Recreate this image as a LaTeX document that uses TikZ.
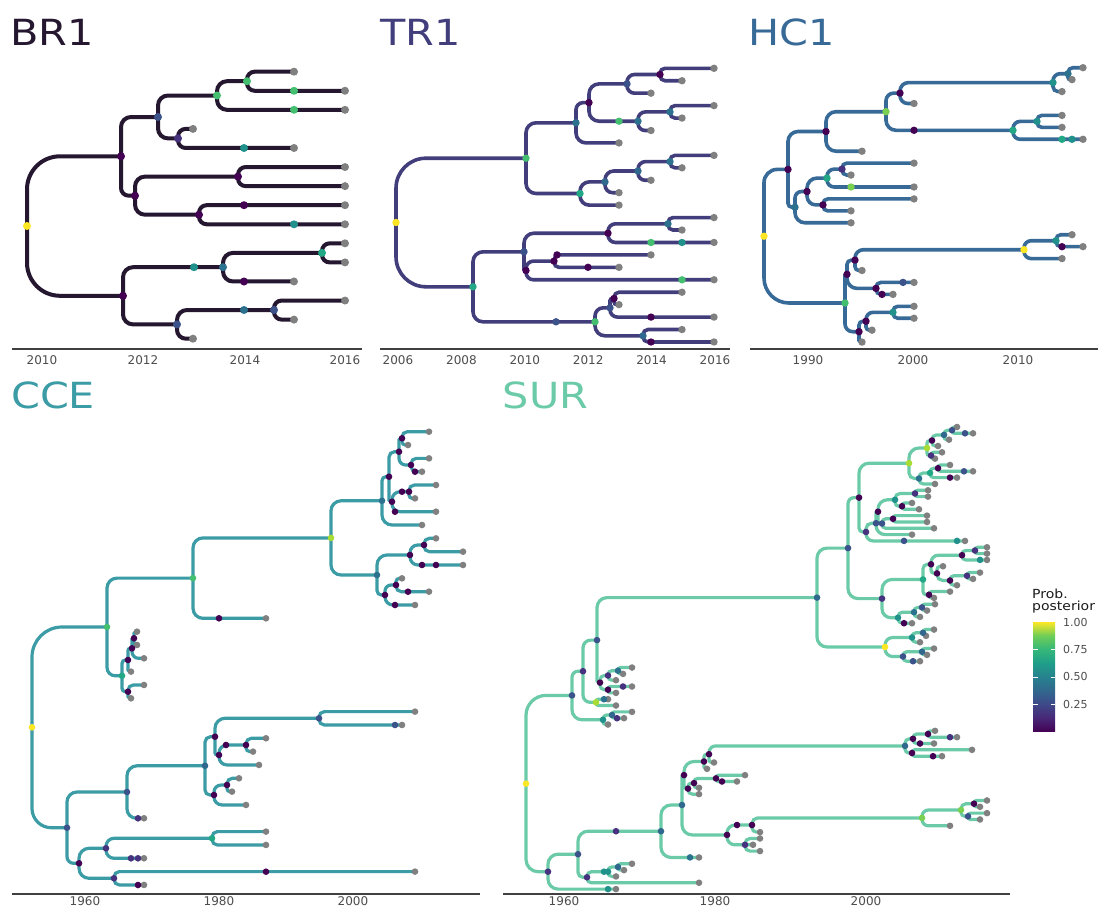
\documentclass[tikz,border=0pt]{standalone}
\usepackage{fontspec}
\setmainfont{DejaVu Sans}
\usetikzlibrary{calc}
\definecolor{vdk}{HTML}{440154}
\definecolor{vpu}{HTML}{46327E}
\definecolor{vbl}{HTML}{3B528B}
\definecolor{vbt}{HTML}{31688E}
\definecolor{vtb}{HTML}{2C728E}
\definecolor{vte}{HTML}{21918C}
\definecolor{vtg}{HTML}{22A884}
\definecolor{vgr}{HTML}{44BF70}
\definecolor{vlg}{HTML}{7AD151}
\definecolor{vyg}{HTML}{A8DB34}
\definecolor{vye}{HTML}{FDE725}
\definecolor{vtip}{HTML}{808080}
\definecolor{cbr}{HTML}{24172F}
\definecolor{ctr}{HTML}{423D7B}
\definecolor{chc}{HTML}{386A98}
\definecolor{cce}{HTML}{3B9CA5}
\definecolor{csu}{HTML}{6BCBA8}
\definecolor{axline}{HTML}{404040}
\definecolor{axlab}{HTML}{4D4D4D}
\definecolor{lgtxt}{HTML}{1A1A1A}
\definecolor{vv0}{HTML}{440154}
\definecolor{vv1}{HTML}{482878}
\definecolor{vv2}{HTML}{3E4989}
\definecolor{vv3}{HTML}{31688E}
\definecolor{vv4}{HTML}{26828E}
\definecolor{vv5}{HTML}{1F9E89}
\definecolor{vv6}{HTML}{35B779}
\definecolor{vv7}{HTML}{6ECE58}
\definecolor{vv8}{HTML}{FDE725}
\pgfdeclareverticalshading{viridis}{100bp}{color(0bp)=(vv0); color(25bp)=(vv0); color(31.25bp)=(vv1); color(37.5bp)=(vv2); color(43.75bp)=(vv3); color(50bp)=(vv4); color(56.25bp)=(vv5); color(62.5bp)=(vv6); color(68.75bp)=(vv7); color(75bp)=(vv8); color(100bp)=(vv8)}
\newcommand\br[3][10]{\draw let \p1=(#2),\p2=(#3),\n1={min(#1,0.55*abs(\x2-\x1),0.8*abs(\y2-\y1))} in [rounded corners=\n1] (#2) |- (#3);}
\newcommand\cns[1]{\foreach \nm/\xx/\yy in {#1}{\coordinate (\nm) at (\xx,\yy);}}
\newcommand\tipsat[4]{\foreach \xx [count=\ii from 0] in {#4}{\coordinate (#1\ii) at (\xx,{#2+#3*\ii});}}
\newcommand\edges[1]{\foreach \pa/\ch in {#1}{\br{\pa}{\ch}}}
\newcommand\edgesR[2]{\foreach \pa/\ch in {#2}{\br[#1]{\pa}{\ch}}}
\newcommand\ndots[1]{\foreach \nm/\col in {#1}{\fill[\col] (\nm) circle[radius=\dr pt];}}
\newcommand\bdots[1]{\foreach \xx/\yy/\col in {#1}{\fill[\col] (\xx,\yy) circle[radius=\dr pt];}}
\newcommand\tipdots[2]{\foreach \ii in {0,...,#2}{\fill[vtip] (#1\ii) circle[radius=\dr pt];}}
\begin{document}
\begin{tikzpicture}[x=1pt,y=-1pt,
 ttl/.style={anchor=base west,inner sep=0pt,font=\fontsize{36}{40}\selectfont},
 tck/.style={inner sep=0pt,text=axlab,font=\fontsize{12}{13}\selectfont},
 axl/.style={draw=axline,line width=1.1pt},
 lgd/.style={inner sep=0pt,anchor=west,text=axlab,font=\fontsize{11}{13}\selectfont}]
\useasboundingbox (0,0) rectangle (1102,907);
\fill[white] (0,0) rectangle (1102,907);

%% ================= BR1
\node[ttl,text=cbr] (brT) at (10,46) {\scalebox{1.15}[1]{BR1}};
\cns{b0/27/226, bA/121/156.3, bB/123/295.8, bC/158/117, bD/135/195.7, bE/217/95.5, bF/178/138.4, bG/247/81.2, bH/238/176.6, bI/199/214.7, bJ/223/267.2, bK/177/324.4, bL/322/252.9, bM/274/310}
\tipsat{bt}{71.7}{19.07}{294,345,345,193,294,345,345,345,345,345,345,294,345,294,193}
\begin{scope}[color=cbr,line width=4pt,line cap=round]
\edgesR{33}{b0/bA,b0/bB}
\edges{bA/bC,bA/bD,bC/bE,bC/bF,bE/bG,bE/bt2,bG/bt0,bG/bt1,bF/bt3,bF/bt4,bD/bH,bD/bI,bH/bt5,bH/bt6,bI/bt7,bI/bt8,bB/bJ,bB/bK,bJ/bL,bJ/bt11,bL/bt9,bL/bt10,bK/bM,bK/bt14,bM/bt12,bM/bt13}
\end{scope}
\def\dr{4}
\tipdots{bt}{14}
\ndots{b0/vye,bA/vdk,bB/vdk,bC/vbl,bD/vdk,bE/vgr,bF/vpu,bG/vgr,bH/vdk,bI/vdk,bJ/vtb,bK/vbl,bL/vtg,bM/vbl}
\bdots{294/90.8/vgr,294/109.8/vgr,244/148/vte,244/205.2/vdk,294/224.3/vte,194/267.2/vte,244/281.5/vdk,244/310/vtb}
\draw[axl] (12,349) -- (362,349);
\node[tck] (bx1) at (42,360) {2010};
\node[tck] (bx2) at (143,360) {2012};
\node[tck] (bx3) at (245,360) {2014};
\node[tck] (bx4) at (345,360) {2016};

%% ================= TR1
\node[ttl,text=ctr] (trT) at (380,46) {\scalebox{1.15}[1]{TR1}};
\cns{r0/396/222.5, rA/526/158.2, rB/473/286.8, rC/576/122.8, rD/580/193.5, rE/589/102.6, rF/627/83.9, rG/638/121.2, rH/660/74.5, rI/670/111.9, rJ/605/181.9, rK/638/171, rL/670/161.6, rM/524/251.8, rN/595/321.8, rO/608/233.2, rP/526/270.5, rQ/554/261.1, rR/668/223.8, rS/610/307.8, rT/643/335.8, rU/614/298.5}
\tipsat{rt}{68.3}{12.44}{714,682,651,714,682,651,619,714,682,651,619,619,714,682,714,651,619,714,682,619,714,682,714}
\begin{scope}[color=ctr,line width=3.6pt,line cap=round]
\edgesR{30}{r0/rA,r0/rB}
\edges{rA/rC,rA/rD,rC/rE,rC/rt6,rE/rF,rE/rG,rF/rH,rF/rt2,rH/rt0,rH/rt1,rG/rI,rG/rt5,rI/rt3,rI/rt4,rD/rJ,rD/rt11,rJ/rK,rJ/rt10,rK/rL,rK/rt9,rL/rt7,rL/rt8,rB/rM,rB/rN,rM/rO,rM/rP,rO/rR,rO/rt14,rR/rt12,rR/rt13,rP/rQ,rP/rt17,rQ/rt15,rQ/rt16,rN/rS,rN/rT,rS/rU,rS/rt20,rU/rt18,rU/rt19,rT/rt21,rT/rt22}
\end{scope}
\def\dr{3.7}
\tipdots{rt}{22}
\ndots{r0/vye,rA/vgr,rB/vtg,rC/vtb,rD/vtg,rE/vdk,rF/vbl,rG/vtb,rH/vdk,rI/vtb,rJ/vbt,rK/vbt,rL/vtb,rM/vbl,rN/vgr,rO/vdk,rP/vdk,rQ/vdk,rR/vtb,rS/vbl,rT/vbt,rU/vdk}
\bdots{619/121.2/vgr,651/242.5/vgr,682/242.5/vte,557/254.9/vdk,588/267.3/vdk,682/279.8/vgr,651/317.1/vdk,651/342/vdk,556/321.8/vbl}
\draw[axl] (380,349) -- (730,349);
\node[tck] (rx1) at (398,360) {2006};
\node[tck] (rx2) at (461.4,360) {2008};
\node[tck] (rx3) at (524.8,360) {2010};
\node[tck] (rx4) at (588.2,360) {2012};
\node[tck] (rx5) at (651.6,360) {2014};
\node[tck] (rx6) at (715,360) {2016};

%% ================= HC1
\node[ttl,text=chc] (hcT) at (748.5,46) {\scalebox{1.15}[1]{HC1}};
\cns{h0/764/236.2, hA/788/169.4, hB/845/303, hC/826/131.5, hD/795/207.2, hE/886/111.7, hF/900/93.1, hH/1053/82.6, hI/1068/73.7, hJ/1013/130.3, hK/1037/121.4, hL/807/191.5, hM/827/178.1, hN/823/204.9, hO/842/169.1, hP/847/274.3, hQ/859/331.7, hR/866/321.2, hS/893/312.3, hT/855/260.1, hU/876/288.4, hV/1024/249.7, hW/1056/240.7}
\tipsat{ht}{67.7}{11.93}{1083,1072,1062,914,1062,1062,1083,862,914,851,914,914,851,851,1072,1083,1062,862,914,893,914,914,872,862}
\begin{scope}[color=chc,line width=3.6pt,line cap=round]
\edgesR{25}{h0/hA,h0/hB}
\edges{hA/hC,hA/hD,hC/hE,hC/ht7,hE/hF,hE/hJ,hF/hH,hF/ht3,hH/hI,hH/ht2,hI/ht0,hI/ht1,hJ/hK,hJ/ht6,hK/ht4,hK/ht5,hD/hL,hD/ht13,hL/hM,hL/hN,hM/hO,hM/ht10,hO/ht8,hO/ht9,hN/ht11,hN/ht12,hB/hP,hB/hQ,hP/hT,hP/hU,hT/hV,hT/ht17,hV/hW,hV/ht16,hW/ht14,hW/ht15,hU/ht18,hU/ht19,hQ/hR,hQ/ht23,hR/hS,hR/ht22,hS/ht20,hS/ht21}
\end{scope}
\def\dr{3.7}
\tipdots{ht}{23}
\ndots{h0/vye,hA/vdk,hB/vgr,hC/vdk,hD/vtb,hE/vlg,hF/vdk,hH/vte,hI/vtb,hJ/vtg,hK/vte,hL/vdk,hM/vtg,hN/vdk,hO/vpu,hP/vdk,hQ/vdk,hR/vdk,hS/vte,hT/vdk,hU/vdk,hV/vye,hW/vte}
\bdots{914/130.3/vdk,1062/139.3/vtg,1072/139.3/vte,851/187/vlg,1062/246.7/vdk,903/282.4/vbl,882/294.4/vdk}
\draw[axl] (750,349) -- (1098,349);
\node[tck] (hx1) at (808,360) {1990};
\node[tck] (hx2) at (913,360) {2000};
\node[tck] (hx3) at (1018,360) {2010};

%% ================= CCE
\node[ttl,text=cce] (ccT) at (11,408) {\scalebox{1.15}[1]{CCE}};
\cns{c0/32/727.3, cA/107/627, cB/67/827.7, cC/193/578.1, cD/122/675.8, cE/331/537.9, cG/382/500.8, cH/377/575, cI/389/476.7, cJ/399/451.7, cK/409/491.7, cL/402/438.3, cM/411/465, cN/392/501.7, cP/410/555, cQ/385/595, cR/424/545, cT/396/585, cV/128/660, cW/128/691.7, cX/132/648.3, cY/134/638.3, cZ/127/792, cAA/79/863.3, cAB/205/765.8, cAC/215/736.7, cAE/219/755, cAF/319/718.3, cAG/246/745, cAH/227/785, cAI/214/795, cAK/106/848.3, cAL/114/878.3, cAM/212/838.3}
\tipsat{ct}{431.7}{13.33}{429,408,429,422,436,415,436,422,436,463,463,402,429,415,266,137,137,144,131,144,131,415,402,266,253,259,239,232,246,144,266,266,144,415,144}
\begin{scope}[color=cce,line width=3.2pt,line cap=round]
\edgesR{30}{c0/cA,c0/cB}
\edges{cA/cC,cA/cD,cC/cE,cC/ct14,cE/cG,cE/cH,cG/cI,cG/ct7,cI/cJ,cI/cN,cJ/cL,cJ/cM,cL/ct0,cL/ct1,cM/ct2,cM/ct3,cN/cK,cN/ct6,cK/ct4,cK/ct5,cH/cP,cH/cQ,cP/cR,cP/ct10,cR/ct8,cR/ct9,cQ/cT,cQ/ct13,cT/ct11,cT/ct12,cD/cV,cD/cW,cV/cX,cV/ct18,cX/cY,cX/ct17,cY/ct15,cY/ct16,cW/ct19,cW/ct20,cB/cZ,cB/cAA,cZ/cAB,cZ/ct29,cAB/cAC,cAB/cAI,cAC/cAF,cAC/cAE,cAF/ct21,cAF/ct22,cAE/cAG,cAE/ct25,cAG/ct23,cAG/ct24,cAI/cAH,cAI/ct28,cAH/ct26,cAH/ct27,cAA/cAK,cAA/cAL,cAK/cAM,cAK/ct32,cAM/ct30,cAM/ct31,cAL/ct33,cAL/ct34}
\end{scope}
\def\dr{3.3}
\tipdots{ct}{34}
\ndots{c0/vye,cA/vgr,cB/vbl,cC/vgr,cD/vtg,cE/vyg,cG/vtb,cH/vtb,cI/vdk,cJ/vdk,cK/vdk,cL/vdk,cM/vdk,cN/vdk,cP/vdk,cQ/vdk,cR/vdk,cT/vdk,cV/vdk,cW/vdk,cX/vdk,cY/vdk,cZ/vbl,cAA/vdk,cAB/vbt,cAC/vdk,cAE/vdk,cAF/vbl,cAG/vdk,cAH/vdk,cAI/vdk,cAK/vpu,cAL/vpu,cAM/vtg}
\bdots{415/471.7/vdk,402/491.7/vdk,395/511.7/vdk,422/565/vdk,436/565/vdk,408/591.7/vdk,395/605/vdk,219/618.3/vdk,395/725/vbl,226/745/vdk,138/818.3/vpu,131/858.3/vpu,138/858.3/vpu,266/871.7/vdk,138/885/vdk}
\draw[axl] (12,894) -- (480,894);
\node[tck] (cx1) at (85,901.5) {1960};
\node[tck] (cx2) at (219,901.5) {1980};
\node[tck] (cx3) at (353,901.5) {2000};

%% ================= SUR
\node[ttl,text=csu] (suT) at (502.6,408) {\scalebox{1.15}[1]{SUR}};
\cns{s0/526/783.6, sA/572/695.4, sB/548/871.7, sD/583/671.2, sE/603/719.8, sF/597/640.1, sG/596/702.3, sC/817/597.6, sI/600/682.6, sJ/848/548.1, sK/885/647, sL/859/497.6, sM/882/598.6, sN/909/463.2, sO/866/532, sP/927/448, sQ/919/478.5, sR0/932/440.5, sS/931/455.5, sR/944/434.9, sR1/952/430.2, sQ1/930/472.9, sQ2/938/468.2, sT/876/523.2, sT1/878/511.7, sT2/895/499.8, sT3/882/523.5, sT4/915/493.5, sT6/902/506.2, sT5/893/518.8, sM1/923/579.5, sM2/898/617.7, sM3/931/564.3, sM4/937/573.4, sM5/962/555.2, sM6/975/550.5, sM7/950/580.5, sM8/929/594.8, sM9/967/575.8, sM10/914/612.2, sM11/922/607.4, sK1/912/637.5, sK2/903/656.5, sK3/923/632.8, sK4/922/651.8, sI1/608/675.5, sI2/608/689.7, sI3/618/670.7, sE1/612/715, sB1/578/854.2, sB2/587/877.3, sB3/661/831.2, sB4/682/805, sB5/684/775.1, sB7/727/834.9, sB8/704/761.5, sB9/688/788.6, sB10/709/754.2, sB11/716/778.4, sB12/694/783.1, sB14/745/844.8, sB15/608/871.7, sB16/618/867, sX/905/745.9, sX1/913/738.8, sX2/912/753, sX3/928/734, sY/922/817.9, sY1/961/810, sY2/974/803.7, sY5/968/816.3, sZ/752/825}
\tipsat{sk}{427}{6.33}{957,973,949,938,942,935,950,973,957,935,928,928,912,919,927,927,934,912,965,987,987,987,943,980,973,957,950,934,935,927,920,912,934,926,920,934,927,920,632,623,616,632,616,608,616,632,624,608,935,957,934,972,942,714,707,745,737,699,699,987,980,987,980,950,760,760,753,760,699,632,624,616,699,616}
\begin{scope}[color=csu,line width=3.2pt,line cap=round]
\edgesR{20}{s0/sA,s0/sB}
\edges{sA/sD,sA/sE,sD/sF,sD/sG,sF/sC,sF/sI,sC/sJ,sC/sK,sJ/sL,sJ/sM,sL/sN,sL/sO,sN/sP,sN/sQ,sP/sR0,sP/sS,sR0/sR,sR0/sk3,sR/sR1,sR/sk2,sR1/sk0,sR1/sk1,sS/sk4,sS/sk5,sQ/sQ1,sQ/sk9,sQ1/sQ2,sQ1/sk8,sQ2/sk6,sQ2/sk7,sO/sT,sO/sk18,sT/sT1,sT/sk17,sT1/sT2,sT1/sT3,sT2/sT4,sT2/sT6,sT4/sk10,sT4/sk11,sT6/sk12,sT6/sk13,sT3/sT5,sT3/sk16,sT5/sk14,sT5/sk15,sM/sM1,sM/sM2,sM1/sM3,sM1/sM8,sM3/sM5,sM3/sM4,sM5/sM6,sM5/sk21,sM6/sk19,sM6/sk20,sM4/sk22,sM4/sM7,sM7/sM9,sM7/sk25,sM9/sk23,sM9/sk24,sM8/sk26,sM8/sk27,sM2/sM10,sM2/sk31,sM10/sM11,sM10/sk30,sM11/sk28,sM11/sk29,sK/sK1,sK/sK2,sK1/sK3,sK1/sk34,sK3/sk32,sK3/sk33,sK2/sK4,sK2/sk37,sK4/sk35,sK4/sk36,sI/sI1,sI/sI2,sI1/sI3,sI1/sk40,sI3/sk38,sI3/sk39,sI2/sk41,sI2/sk42,sG/sk43,sG/sk44,sE/sE1,sE/sk47,sE1/sk45,sE1/sk46,sB/sB1,sB/sk73,sB1/sB3,sB1/sB2,sB3/sB4,sB3/sk68,sB4/sB5,sB4/sB7,sB5/sB8,sB5/sB9,sB8/sB10,sB8/sk54,sB10/sX,sB10/sk53,sX/sX1,sX/sX2,sX1/sX3,sX1/sk50,sX3/sk48,sX3/sk49,sX2/sk51,sX2/sk52,sB9/sB12,sB9/sk58,sB12/sB11,sB12/sk57,sB11/sk55,sB11/sk56,sB7/sZ,sB7/sB14,sZ/sY,sZ/sk64,sY/sY1,sY/sk63,sY1/sY2,sY1/sY5,sY2/sk59,sY2/sk60,sY5/sk61,sY5/sk62,sB14/sk65,sB14/sk66,sB14/sk67,sB2/sB15,sB2/sk72,sB15/sB16,sB15/sk71,sB16/sk69,sB16/sk70}
\end{scope}
\def\dr{3.3}
\tipdots{sk}{73}
\ndots{s0/vye,sA/vbl,sB/vpu,sD/vpu,sE/vte,sF/vbl,sG/vyg,sC/vbt,sI/vdk,sI1/vpu,sI2/vdk,sI3/vtb,sE1/vbt,sJ/vbl,sL/vdk,sN/vyg,sO/vpu,sP/vyg,sQ/vtb,sQ1/vtg,sQ2/vdk,sR0/vdk,sR/vbt,sR1/vbl,sS/vpu,sT/vbl,sT1/vdk,sT2/vte,sT3/vbl,sT4/vpu,sT5/vdk,sT6/vdk,sM/vpu,sM1/vtg,sM2/vte,sM3/vdk,sM4/vdk,sM5/vdk,sM6/vpu,sM7/vdk,sM8/vdk,sM9/vpu,sM10/vtb,sM11/vbl,sK/vye,sK1/vte,sK2/vbl,sK3/vbt,sK4/vbt,sB1/vbl,sB2/vpu,sB3/vbt,sB4/vbt,sB5/vdk,sB7/vdk,sB8/vdk,sB9/vdk,sB10/vdk,sB11/vdk,sB12/vdk,sB14/vpu,sB15/vte,sB16/vbt,sX/vbt,sX1/vdk,sX2/vdk,sX3/vdk,sY/vlg,sY1/vlg,sY2/vdk,sY5/vbl,sZ/vdk}
\bdots{965/433.3/vbl,950/477.6/vdk,964/471.3/vbl,904/540.9/vbl,957/540.9/vte,980/559.9/vte,904/623.2/vdk,913/661.2/vbl,604/699.2/vtb,617/718.2/vpu,623/686.5/vpu,950/737.2/vpu,920/743.5/vdk,933/756.2/vdk,722/781.5/vdk,690/857.4/vtb,616/831.2/vpu,737/825/vdk,604/871.7/vte,608/889.1/vte}
\draw[axl] (503,894) -- (1010,894);
\node[tck] (sx1) at (564,901.5) {1960};
\node[tck] (sx2) at (715,901.5) {1980};
\node[tck] (sx3) at (866,901.5) {2000};

%% ================= legend
\node[inner sep=0pt,anchor=north west,align=left,text=lgtxt,font=\fontsize{12.5}{11.5}\selectfont] (lg1) at (1032,589) {\scalebox{1.12}[1]{Prob.}\\\scalebox{1.12}[1]{posterior}};
\shade[shading=viridis] (1033,622) rectangle (1055,731.5);
\foreach \yy in {649.7,676.9,704.1}{
  \draw[white,line width=0.8pt] (1033,\yy) -- (1037.5,\yy);
  \draw[white,line width=0.8pt] (1050.5,\yy) -- (1055,\yy);
}
\node[lgd] (lv1) at (1063,622.5) {1.00};
\node[lgd] (lv2) at (1063,649.7) {0.75};
\node[lgd] (lv3) at (1063,676.9) {0.50};
\node[lgd] (lv4) at (1063,704.1) {0.25};
\end{tikzpicture}
\end{document}
